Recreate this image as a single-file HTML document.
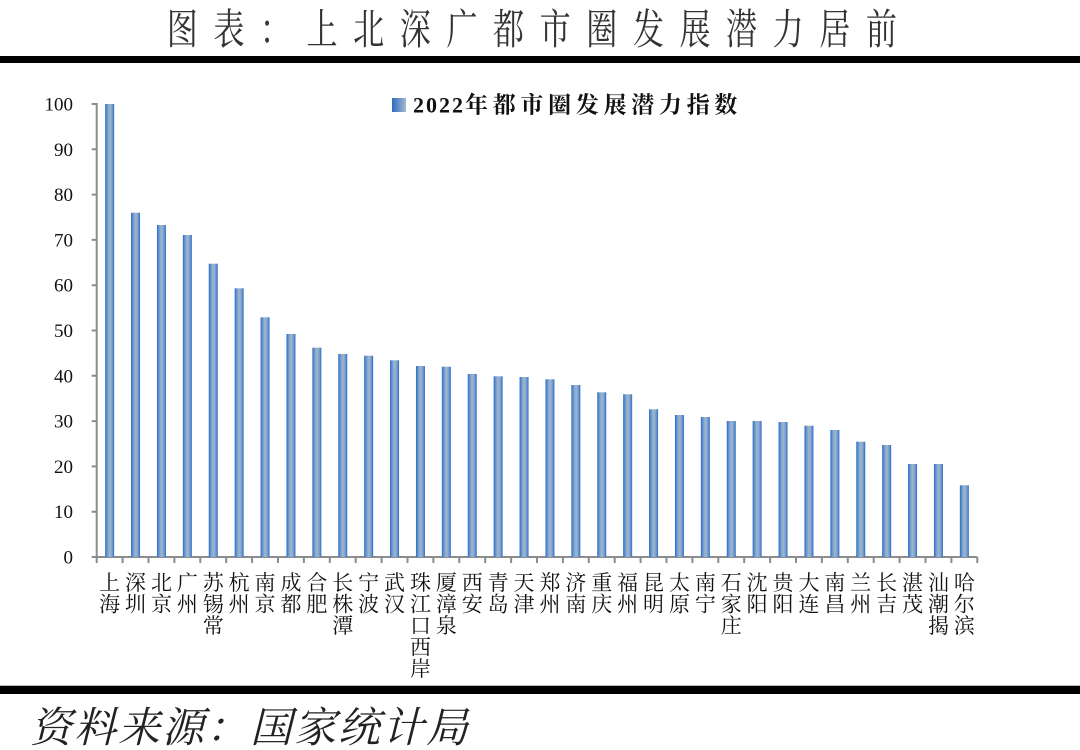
<!DOCTYPE html>
<html>
<head>
<meta charset="utf-8">
<style>
html,body{margin:0;padding:0;background:#fff;}
body{width:1080px;height:750px;overflow:hidden;}
svg{display:block;}
.yl{font-family:"Liberation Serif","Noto Serif CJK SC",serif;font-size:19px;fill:#111;}
.xl{font-family:"Liberation Serif","Noto Serif CJK SC",serif;font-size:21px;fill:#111;}
</style>
</head>
<body>
<svg width="1080" height="750" viewBox="0 0 1080 750" xmlns="http://www.w3.org/2000/svg">
<defs>
<linearGradient id="bg" x1="0" y1="0" x2="1" y2="0">
<stop offset="0" stop-color="#246ac6"/>
<stop offset="0.22" stop-color="#6896d0"/>
<stop offset="0.45" stop-color="#9cb2cb"/>
<stop offset="0.6" stop-color="#9bb1ca"/>
<stop offset="0.82" stop-color="#6896d0"/>
<stop offset="1" stop-color="#246ac6"/>
</linearGradient>
<linearGradient id="lg" x1="0" y1="0" x2="1" y2="0">
<stop offset="0" stop-color="#2a6cc2"/>
<stop offset="1" stop-color="#a6b8cd"/>
</linearGradient>
</defs>

<!-- Title -->
<g transform="translate(166.7,0) scale(0.74,1)">
<text x="0" y="44" font-family="'Noto Serif CJK SC','Liberation Serif',serif" font-size="42" letter-spacing="21" fill="#333">图表：上北深广都市圈发展潜力居前</text>
</g>
<rect x="0" y="56" width="1080" height="7" fill="#000"/>

<!-- Legend -->
<rect x="392" y="98" width="14" height="14" fill="url(#lg)"/>
<text x="413" y="112.5" font-weight="bold" fill="#111"><tspan font-family="'Liberation Serif',serif" font-size="22" letter-spacing="2">2022</tspan><tspan font-family="'Noto Serif CJK SC','Noto Sans CJK SC',serif" font-size="23" letter-spacing="4.7">年都市圈发展潜力指数</tspan></text>

<!-- Axes -->
<g stroke="#8c8c8c" stroke-width="2" fill="none">
<path d="M96.7 103 V557 H977.3"/>
<path d="M91.7 557H96.7M91.7 511.7H96.7M91.7 466.4H96.7M91.7 421.1H96.7M91.7 375.8H96.7M91.7 330.5H96.7M91.7 285.2H96.7M91.7 239.9H96.7M91.7 194.6H96.7M91.7 149.3H96.7M91.7 104H96.7"/>
<path d="M96.7 557V563M122.6 557V563M148.5 557V563M174.4 557V563M200.3 557V563M226.2 557V563M252.1 557V563M278 557V563M303.9 557V563M329.8 557V563M355.7 557V563M381.6 557V563M407.5 557V563M433.4 557V563M459.3 557V563M485.2 557V563M511.1 557V563M537 557V563M562.9 557V563M588.8 557V563M614.7 557V563M640.6 557V563M666.5 557V563M692.4 557V563M718.3 557V563M744.2 557V563M770.1 557V563M796 557V563M821.9 557V563M847.8 557V563M873.7 557V563M899.6 557V563M925.5 557V563M951.4 557V563M977.3 557V563"/>
</g>

<!-- Y labels -->
<g class="yl" text-anchor="end">
<text x="73" y="563.5">0</text>
<text x="73" y="518.2">10</text>
<text x="73" y="472.9">20</text>
<text x="73" y="427.6">30</text>
<text x="73" y="382.3">40</text>
<text x="73" y="337">50</text>
<text x="73" y="291.7">60</text>
<text x="73" y="246.4">70</text>
<text x="73" y="201.1">80</text>
<text x="73" y="155.8">90</text>
<text x="73" y="110.5">100</text>
</g>

<!-- Bars -->
<g fill="url(#bg)">
<rect x="105.15" y="104" width="9" height="453"/>
<rect x="131.05" y="212.7" width="9" height="344.3"/>
<rect x="156.95" y="225" width="9" height="332"/>
<rect x="182.85" y="235" width="9" height="322"/>
<rect x="208.75" y="263.7" width="9" height="293.3"/>
<rect x="234.65" y="288.3" width="9" height="268.7"/>
<rect x="260.55" y="317.3" width="9" height="239.7"/>
<rect x="286.45" y="334" width="9" height="223"/>
<rect x="312.35" y="347.7" width="9" height="209.3"/>
<rect x="338.25" y="354" width="9" height="203"/>
<rect x="364.15" y="355.7" width="9" height="201.3"/>
<rect x="390.05" y="360.3" width="9" height="196.7"/>
<rect x="415.95" y="366" width="9" height="191"/>
<rect x="441.85" y="366.7" width="9" height="190.3"/>
<rect x="467.75" y="374" width="9" height="183"/>
<rect x="493.65" y="376.3" width="9" height="180.7"/>
<rect x="519.55" y="377" width="9" height="180"/>
<rect x="545.45" y="379.3" width="9" height="177.7"/>
<rect x="571.35" y="385" width="9" height="172"/>
<rect x="597.25" y="392.3" width="9" height="164.7"/>
<rect x="623.15" y="394.3" width="9" height="162.7"/>
<rect x="649.05" y="409.3" width="9" height="147.7"/>
<rect x="674.95" y="415" width="9" height="142"/>
<rect x="700.85" y="417" width="9" height="140"/>
<rect x="726.75" y="421" width="9" height="136"/>
<rect x="752.65" y="421" width="9" height="136"/>
<rect x="778.55" y="422" width="9" height="135"/>
<rect x="804.45" y="425.7" width="9" height="131.3"/>
<rect x="830.35" y="430" width="9" height="127"/>
<rect x="856.25" y="441.7" width="9" height="115.3"/>
<rect x="882.15" y="445" width="9" height="112"/>
<rect x="908.05" y="464" width="9" height="93"/>
<rect x="933.95" y="464" width="9" height="93"/>
<rect x="959.85" y="485.3" width="9" height="71.7"/>
</g>

<!-- X labels -->
<g class="xl" text-anchor="middle">
<text y="590"><tspan x="109.65">上</tspan><tspan x="109.65" dy="21.5">海</tspan></text>
<text y="590"><tspan x="135.55">深</tspan><tspan x="135.55" dy="21.5">圳</tspan></text>
<text y="590"><tspan x="161.45">北</tspan><tspan x="161.45" dy="21.5">京</tspan></text>
<text y="590"><tspan x="187.35">广</tspan><tspan x="187.35" dy="21.5">州</tspan></text>
<text y="590"><tspan x="213.25">苏</tspan><tspan x="213.25" dy="21.5">锡</tspan><tspan x="213.25" dy="21.5">常</tspan></text>
<text y="590"><tspan x="239.15">杭</tspan><tspan x="239.15" dy="21.5">州</tspan></text>
<text y="590"><tspan x="265.05">南</tspan><tspan x="265.05" dy="21.5">京</tspan></text>
<text y="590"><tspan x="290.95">成</tspan><tspan x="290.95" dy="21.5">都</tspan></text>
<text y="590"><tspan x="316.85">合</tspan><tspan x="316.85" dy="21.5">肥</tspan></text>
<text y="590"><tspan x="342.75">长</tspan><tspan x="342.75" dy="21.5">株</tspan><tspan x="342.75" dy="21.5">潭</tspan></text>
<text y="590"><tspan x="368.65">宁</tspan><tspan x="368.65" dy="21.5">波</tspan></text>
<text y="590"><tspan x="394.55">武</tspan><tspan x="394.55" dy="21.5">汉</tspan></text>
<text y="590"><tspan x="420.45">珠</tspan><tspan x="420.45" dy="21.5">江</tspan><tspan x="420.45" dy="21.5">口</tspan><tspan x="420.45" dy="21.5">西</tspan><tspan x="420.45" dy="21.5">岸</tspan></text>
<text y="590"><tspan x="446.35">厦</tspan><tspan x="446.35" dy="21.5">漳</tspan><tspan x="446.35" dy="21.5">泉</tspan></text>
<text y="590"><tspan x="472.25">西</tspan><tspan x="472.25" dy="21.5">安</tspan></text>
<text y="590"><tspan x="498.15">青</tspan><tspan x="498.15" dy="21.5">岛</tspan></text>
<text y="590"><tspan x="524.05">天</tspan><tspan x="524.05" dy="21.5">津</tspan></text>
<text y="590"><tspan x="549.95">郑</tspan><tspan x="549.95" dy="21.5">州</tspan></text>
<text y="590"><tspan x="575.85">济</tspan><tspan x="575.85" dy="21.5">南</tspan></text>
<text y="590"><tspan x="601.75">重</tspan><tspan x="601.75" dy="21.5">庆</tspan></text>
<text y="590"><tspan x="627.65">福</tspan><tspan x="627.65" dy="21.5">州</tspan></text>
<text y="590"><tspan x="653.55">昆</tspan><tspan x="653.55" dy="21.5">明</tspan></text>
<text y="590"><tspan x="679.45">太</tspan><tspan x="679.45" dy="21.5">原</tspan></text>
<text y="590"><tspan x="705.35">南</tspan><tspan x="705.35" dy="21.5">宁</tspan></text>
<text y="590"><tspan x="731.25">石</tspan><tspan x="731.25" dy="21.5">家</tspan><tspan x="731.25" dy="21.5">庄</tspan></text>
<text y="590"><tspan x="757.15">沈</tspan><tspan x="757.15" dy="21.5">阳</tspan></text>
<text y="590"><tspan x="783.05">贵</tspan><tspan x="783.05" dy="21.5">阳</tspan></text>
<text y="590"><tspan x="808.95">大</tspan><tspan x="808.95" dy="21.5">连</tspan></text>
<text y="590"><tspan x="834.85">南</tspan><tspan x="834.85" dy="21.5">昌</tspan></text>
<text y="590"><tspan x="860.75">兰</tspan><tspan x="860.75" dy="21.5">州</tspan></text>
<text y="590"><tspan x="886.65">长</tspan><tspan x="886.65" dy="21.5">吉</tspan></text>
<text y="590"><tspan x="912.55">湛</tspan><tspan x="912.55" dy="21.5">茂</tspan></text>
<text y="590"><tspan x="938.45">汕</tspan><tspan x="938.45" dy="21.5">潮</tspan><tspan x="938.45" dy="21.5">揭</tspan></text>
<text y="590"><tspan x="964.35">哈</tspan><tspan x="964.35" dy="21.5">尔</tspan><tspan x="964.35" dy="21.5">滨</tspan></text>
</g>

<!-- Bottom rule & source -->
<rect x="0" y="685" width="1080" height="1" fill="#bbb"/>
<rect x="0" y="686" width="1080" height="8" fill="#000"/>
<text x="30" y="742" font-family="'Noto Serif CJK SC','Liberation Serif',serif" font-size="42" font-style="italic" letter-spacing="2" fill="#222">资料来源：国家统计局</text>
</svg>
</body>
</html>
